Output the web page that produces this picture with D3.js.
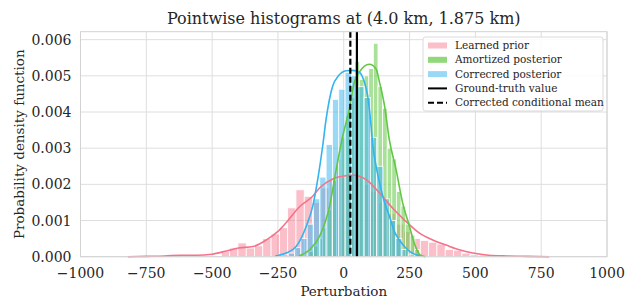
<!DOCTYPE html>
<html><head><meta charset="utf-8">
<script src="https://cdn.jsdelivr.net/npm/d3@7"></script>
<style>body{margin:0;background:#fff;} svg{display:block;font-family:"DejaVu Serif",serif;}</style>
</head><body>
<svg id="c" width="626" height="299"></svg>
<script>
// ---------- data ----------
const title = "Pointwise histograms at (4.0 km, 1.875 km)";
const xTicks = [-1000,-750,-500,-250,0,250,500,750,1000];
const yTicks = [0,0.001,0.002,0.003,0.004,0.005,0.006];
const legendLabels = ["Learned prior","Amortized posterior","Correcred posterior","Ground-truth value","Corrected conditional mean"];

// Learned prior histogram
const priorStart = -465, priorWidth = 31.5;
const priorHeights = [0.00014,0.00024,0.00038,0.00024,0.0003,0.0005,0.00063,0.0008,0.00135,0.00185,0.00167,0.0015,
  0.0019,0.0021,0.0022,0.0023,0.0022,0.002,0.0018,0.0015,0.0012,0.0009,0.0007,0.0005,0.00045,0.0004,0.00035,0.0002,0.00018,0.0001,0.00005];
// Amortized posterior histogram
const amortStart = -132.5, amortWidth = 17.5;
const amortHeights = [0.00015,0.0003,0.0005,0.0008,0.0013,0.0021,0.0027,0.0033,0.0039,0.0044,0.0054,0.0049,0.005,0.0052,0.0059,
  0.0047,0.0041,0.003,0.0027,0.0018,0.0014,0.0009,0.0006,0.0002];
// Corrected posterior histogram
const corrStart = -235, corrWidth = 24;
const corrHeights = [0.00005,0.0001,0.00025,0.0005,0.0009,0.0016,0.0022,0.0031,0.00435,0.00463,0.0051,0.005,0.0047,0.0044,
  0.0033,0.0025,0.0016,0.001,0.0005,0.0002,0.00005];

// KDE curves
const priorKdeX = [-820,-750,-680,-620,-560,-500,-450,-400,-345,-295,-250,-219,-168,-118,-92,-42,0,34,85,136,186,237,288,338,389,439,490,550,620,700,780];
const priorKdeY = [0,0.00001,0.00002,0.00004,0.00004,0.00007,0.00015,0.00024,0.00028,0.00046,0.0007,0.00094,0.00138,0.00167,0.0019,0.00215,0.00223,0.00225,0.00213,0.00176,0.00134,0.00097,0.00065,0.00046,0.00032,0.00019,0.0001,0.00004,0.00002,0.00001,0];
const amortKdeX = [-170,-130,-92,-54,-29,-4,21,40,60,97,123,136,155,173,199,224,250,268,290,310];
const amortKdeY = [0.00002,0.00019,0.00056,0.00139,0.0024,0.00333,0.00407,0.00482,0.00511,0.00532,0.00519,0.00482,0.00417,0.00324,0.0024,0.00148,0.00083,0.00037,0.00005,0];
const corrKdeX = [-260,-219,-181,-143,-118,-99,-80,-67,-42,-20,9,35,59,75,91,104,110,123,136,155,174,192,211,250,290];
const corrKdeY = [0.00002,0.0001,0.00028,0.00083,0.00139,0.00213,0.00306,0.0038,0.00472,0.005,0.00514,0.00515,0.0051,0.0049,0.00444,0.0036,0.0031,0.0025,0.00204,0.0015,0.00111,0.0007,0.00046,0.00015,0.00002];

const groundTruth = 50;
const condMean = 25;

// ---------- drawing ----------
const svg = d3.select("#c");
const L = 80.5, R = 607, T = 31.7, B = 256.7;
const x = d3.scaleLinear().domain([-1000,1000]).range([L,R]);
const y = d3.scaleLinear().domain([0,0.00622]).range([B,T]);

const cPrior = "#f77189", cAmort = "#62c843", cCorr = "#33b4ee";

// grid
const g = svg.append("g");
g.selectAll(".vg").data(xTicks).join("line").attr("x1",d=>x(d)).attr("x2",d=>x(d)).attr("y1",T).attr("y2",B)
  .attr("stroke","#dedede").attr("stroke-width",1);
g.selectAll(".hg").data(yTicks).join("line").attr("x1",L).attr("x2",R).attr("y1",d=>y(d)).attr("y2",d=>y(d))
  .attr("stroke","#dedede").attr("stroke-width",1);

function hist(start,w,heights,color,op){
  svg.append("g").selectAll("rect").data(heights).join("rect")
    .attr("x",(d,i)=>x(start+i*w)).attr("width",(d,i)=>x(start+(i+1)*w)-x(start+i*w))
    .attr("y",d=>y(d)).attr("height",d=>B-y(d))
    .attr("fill",color).attr("fill-opacity",op).attr("stroke","#fff").attr("stroke-width",0.8);
}
hist(priorStart,priorWidth,priorHeights,cPrior,0.45);
hist(amortStart,amortWidth,amortHeights,cAmort,0.55);
hist(corrStart,corrWidth,corrHeights,cCorr,0.5);

const line = d3.line().x(d=>x(d[0])).y(d=>y(d[1])).curve(d3.curveMonotoneX);
function kde(xs,ys,color){
  svg.append("path").datum(xs.map((v,i)=>[v,ys[i]])).attr("d",line).attr("fill","none")
    .attr("stroke",color).attr("stroke-width",1.6);
}
kde(priorKdeX,priorKdeY,cPrior);
kde(amortKdeX,amortKdeY,cAmort);
kde(corrKdeX,corrKdeY,cCorr);

// vertical lines
svg.append("line").attr("x1",x(groundTruth)).attr("x2",x(groundTruth)).attr("y1",T).attr("y2",B)
  .attr("stroke","#000").attr("stroke-width",2.2);
svg.append("line").attr("x1",x(condMean)).attr("x2",x(condMean)).attr("y1",T).attr("y2",B)
  .attr("stroke","#000").attr("stroke-width",2.2).attr("stroke-dasharray","6,3");

// frame
svg.append("rect").attr("x",L).attr("y",T).attr("width",R-L).attr("height",B-T).attr("fill","none")
  .attr("stroke","#d2d2d2").attr("stroke-width",1);

// ticks labels
svg.append("g").selectAll("text").data(xTicks).join("text")
  .attr("x",d=>x(d)).attr("y",B+21).attr("text-anchor","middle").attr("font-size",14).attr("fill","#262626")
  .text(d=>d3.format("d")(d).replace("-","\u2212"));
svg.append("g").selectAll("text").data(yTicks).join("text")
  .attr("x",L-9).attr("y",d=>y(d)+5).attr("text-anchor","end").attr("font-size",14).attr("fill","#262626")
  .text(d=>d3.format(".3f")(d));

// labels
svg.append("text").attr("x",(L+R)/2).attr("y",296).attr("text-anchor","middle").attr("font-size",13.5).attr("fill","#262626").text("Perturbation");
svg.append("text").attr("transform",`translate(24,${(T+B)/2}) rotate(-90)`).attr("text-anchor","middle").attr("font-size",13.5).attr("fill","#262626").text("Probability density function");
svg.append("text").attr("x",(L+R)/2).attr("y",24).attr("text-anchor","middle").attr("font-size",16).attr("fill","#262626").text(title);

// legend
const lg = svg.append("g");
const lx = 423, ly = 37;
lg.append("rect").attr("x",lx).attr("y",ly).attr("width",180).attr("height",74).attr("rx",2.5)
  .attr("fill","#fff").attr("fill-opacity",0.85).attr("stroke","#d0d0d0").attr("stroke-width",0.8);
const patchCols = [[cPrior,0.45],[cAmort,0.7],[cCorr,0.5]];
legendLabels.forEach((t,i)=>{
  const yy = ly + 8.5 + i*14.3;
  if(i<3){
    lg.append("rect").attr("x",lx+5).attr("y",yy-3).attr("width",19).attr("height",6)
      .attr("fill",patchCols[i][0]).attr("fill-opacity",patchCols[i][1]);
  } else {
    lg.append("line").attr("x1",lx+5).attr("x2",lx+24).attr("y1",yy).attr("y2",yy).attr("stroke","#000")
      .attr("stroke-width",2).attr("stroke-dasharray",i===4?"6,3":null);
  }
  lg.append("text").attr("x",lx+32).attr("y",yy+3.5).attr("font-size",10.5).attr("fill","#262626").text(t);
});
</script>
</body></html>
